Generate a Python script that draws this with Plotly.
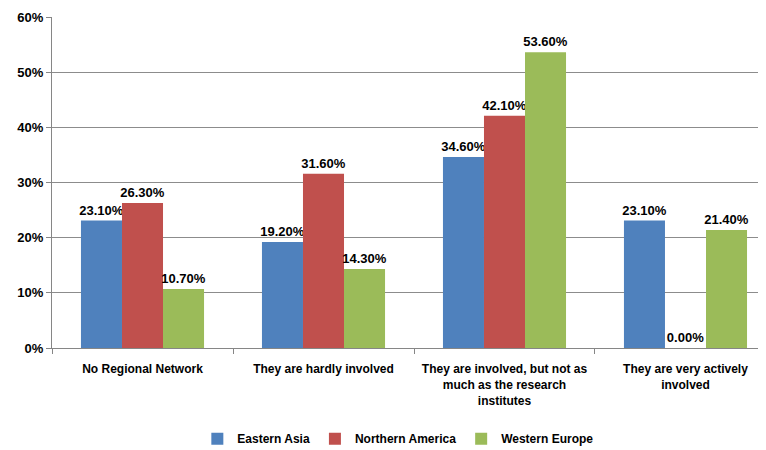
import plotly.graph_objects as go

categories = [
    "No Regional Network",
    "They are hardly involved",
    "They are involved, but not as<br>much as the research<br>institutes",
    "They are very actively<br>involved",
]
series_names = ["Eastern Asia", "Northern America", "Western Europe"]
eastern_asia = [23.1, 19.2, 34.6, 23.1]
northern_america = [26.3, 31.6, 42.1, 0.0]
western_europe = [10.7, 14.3, 53.6, 21.4]
colors = ["#4F81BD", "#C0504D", "#9BBB59"]
y_ticks = [0, 10, 20, 30, 40, 50, 60]
y_tick_labels = [f"{v}%" for v in y_ticks]

FONT = "Liberation Sans, Arial, sans-serif"

fig = go.Figure()
for name, vals, col in zip(series_names, [eastern_asia, northern_america, western_europe], colors):
    fig.add_trace(go.Bar(
        x=categories, y=vals, name=f"<b>{name}</b>",
        marker=dict(color=col, line=dict(width=0)),
        text=[f"<b>{v:.2f}%</b>" for v in vals],
        textposition="outside",
        constraintext="none",
        textfont=dict(family=FONT, size=13, color="black"),
        cliponaxis=False,
    ))

fig.update_layout(
    width=766, height=450,
    margin=dict(l=44, r=0, t=9, b=110),
    paper_bgcolor="white", plot_bgcolor="white",
    barmode="group", bargap=0.32, bargroupgap=0,
    font=dict(family=FONT, size=12, color="black"),
    showlegend=True,
    legend=dict(orientation="h", x=0.479, xanchor="center", y=-0.23, yanchor="top",
                font=dict(family=FONT, size=12, color="black"),
                itemwidth=30, tracegroupgap=0),
    xaxis=dict(
        range=[-0.5, 3.489],
        automargin=False,
        showline=True, linecolor="#868686", linewidth=1,
        ticks="outside", tickson="boundaries", ticklen=5, tickcolor="#868686",
        tickfont=dict(family=FONT, size=12, color="black"),
        tickvals=categories,
        ticktext=[f"<b>{c}</b>" for c in categories],
        ticklabelstandoff=10,
        showgrid=False, tickangle=0,
    ),
    yaxis=dict(
        range=[0, 60], tickvals=y_ticks,
        ticktext=[f"<b>{t}</b>" for t in y_tick_labels],
        automargin=False,
        showline=True, linecolor="#868686", linewidth=1,
        ticks="outside", ticklen=5, tickcolor="#868686",
        showgrid=True, gridcolor="#8C8C8C", gridwidth=1,
        zeroline=False,
        tickfont=dict(family=FONT, size=13, color="black"),
    ),
)

fig.write_html("out.html")
